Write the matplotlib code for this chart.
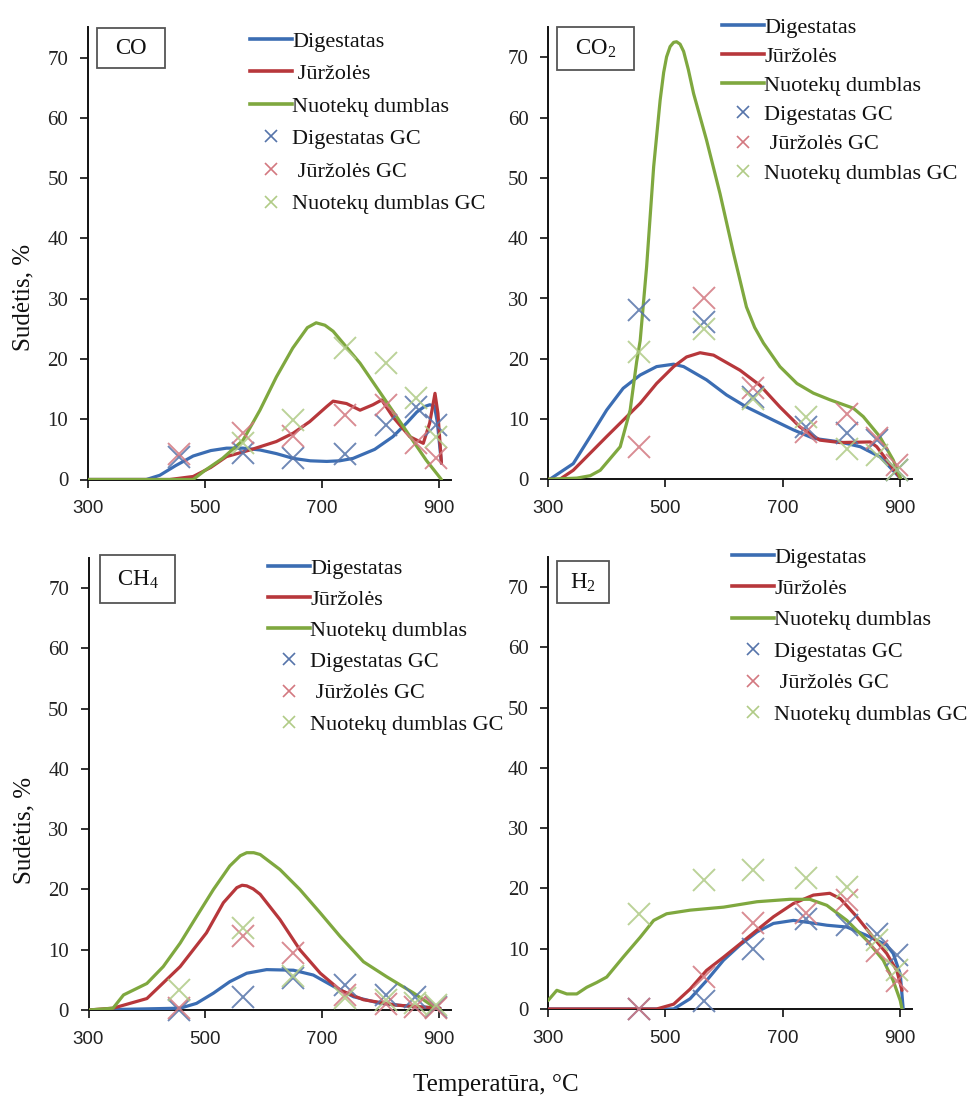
import numpy as np
import matplotlib
matplotlib.use("Agg")
import matplotlib.pyplot as plt
from matplotlib.lines import Line2D
from matplotlib.patches import Rectangle

plt.rcParams["font.family"] = ["Liberation Serif", "DejaVu Serif"]
plt.rcParams["mathtext.fontset"] = "custom"
plt.rcParams["mathtext.rm"] = "Liberation Serif"

# ---- data (temperature in C, composition in %) ----
series_names = ["Digestatas", "Jūržolės", "Nuotekų dumblas"]
gc_T = [455, 565, 650, 740, 810, 860, 895]

# CO
co_dig_T = [300, 400, 423, 450, 480, 510, 537, 565, 594, 622, 651, 680, 708, 730, 753, 790, 821, 845, 862, 875, 884, 892, 897, 904]
co_dig = [0, 0, 0.7, 2.3, 3.9, 4.8, 5.2, 5.2, 4.9, 4.3, 3.5, 3.1, 3.0, 3.1, 3.5, 5.0, 7.1, 9.4, 11.2, 12.1, 12.4, 12.2, 9.5, 2.7]
co_jur_T = [300, 440, 480, 510, 537, 577, 622, 651, 679, 708, 719, 742, 765, 787, 802, 821, 850, 873, 884, 893, 898, 904]
co_jur = [0, 0, 0.5, 2.0, 3.8, 4.9, 6.3, 7.7, 9.6, 12.1, 13.0, 12.6, 11.5, 12.4, 13.2, 10.4, 7.1, 6.0, 9.4, 14.3, 11.0, 2.7]
co_nd_T = [300, 480, 500, 530, 565, 594, 622, 650, 675, 690, 705, 719, 765, 822, 878, 904]
co_nd = [0, 0, 1.5, 3.5, 6.5, 11.5, 17.0, 21.8, 25.2, 26.0, 25.6, 24.6, 19.3, 11.2, 3.2, 0]
co_dig_gc = [3.8, 4.4, 3.6, 4.3, 9.0, 12.1, 9.0]
co_jur_gc = [4.3, 7.7, 7.2, 10.7, 12.4, 6.0, 3.6]
co_nd_gc = [np.nan, 6.0, 9.9, 21.8, 19.3, 13.5, 7.1]

# CO2
co2_dig_T = [303, 343, 372, 400, 428, 457, 485, 514, 531, 570, 604, 638, 684, 718, 752, 797, 832, 866, 900]
co2_dig = [0, 2.6, 7.1, 11.5, 15.1, 17.3, 18.7, 19.1, 18.7, 16.5, 14.0, 12.0, 9.8, 8.2, 6.8, 6.2, 5.4, 3.7, 0.2]
co2_jur_T = [300, 320, 343, 400, 457, 485, 514, 536, 559, 582, 627, 661, 695, 729, 763, 797, 849, 860, 900]
co2_jur = [0, 0, 1.5, 7.1, 12.6, 15.9, 18.7, 20.3, 21.0, 20.6, 18.1, 15.6, 12.0, 8.7, 6.5, 6.1, 6.2, 5.4, 0.2]
co2_nd_T = [300, 349, 372, 389, 423, 440, 451, 457, 468, 480, 491, 497, 502, 508, 514, 519, 525, 531, 539, 548, 570, 593, 616, 638, 652, 667, 695, 724, 752, 780, 820, 837, 865, 888, 901]
co2_nd = [0, 0.2, 0.6, 1.5, 5.4, 11.5, 19.5, 23.0, 35.3, 51.9, 62.9, 67.5, 70.1, 71.8, 72.5, 72.6, 72.2, 71.0, 68.0, 64.0, 56.3, 47.4, 37.5, 28.6, 25.2, 22.6, 18.7, 15.9, 14.3, 13.2, 11.8, 10.4, 7.1, 3.2, 0]
co2_dig_gc = [28.1, 26.1, 13.7, 8.7, 7.6, 6.5, 1.5]
co2_jur_gc = [5.4, 30.0, 15.1, 7.9, 10.9, 6.8, 2.4]
co2_nd_gc = [21.2, 25.0, 13.4, 10.4, 5.1, 4.0, 1.5]

# CH4
ch4_dig_T = [300, 457, 485, 514, 542, 571, 605, 651, 685, 720, 754, 800, 857, 902]
ch4_dig = [0, 0.3, 1.1, 2.8, 4.7, 6.1, 6.7, 6.6, 5.8, 3.9, 2.2, 1.1, 0.55, 0.3]
ch4_jur_T = [300, 342, 400, 457, 502, 531, 554, 563, 571, 582, 594, 628, 662, 697, 731, 771, 828, 902]
ch4_jur = [0, 0.3, 1.9, 7.2, 12.8, 17.8, 20.3, 20.7, 20.6, 20.1, 19.2, 15.0, 10.0, 6.1, 3.3, 1.7, 0.8, 0.3]
ch4_nd_T = [300, 342, 360, 400, 428, 457, 485, 514, 542, 560, 571, 583, 594, 628, 662, 697, 731, 771, 811, 857, 891, 902]
ch4_nd = [0, 0.3, 2.5, 4.4, 7.2, 11.1, 15.5, 20.0, 23.9, 25.6, 26.1, 26.1, 25.8, 23.3, 20.0, 16.1, 12.2, 8.0, 5.5, 2.8, 0.55, 0]
ch4_dig_gc = [0.0, 2.2, 5.3, 4.2, 2.5, 2.2, 0.5]
ch4_jur_gc = [0.3, 12.2, 9.4, 2.5, 1.0, 0.55, 0.3]
ch4_nd_gc = [3.3, 13.6, 5.6, 2.0, 1.7, 1.1, 0.8]

# H2
h2_dig_T = [300, 514, 542, 570, 599, 627, 656, 684, 718, 741, 775, 809, 843, 877, 888, 900, 905]
h2_dig = [0, 0, 1.7, 4.7, 8.1, 10.6, 12.8, 14.2, 14.7, 14.4, 13.9, 13.6, 12.2, 10.6, 9.2, 5.8, 0]
h2_jur_T = [300, 485, 514, 542, 570, 599, 627, 656, 684, 718, 752, 780, 798, 826, 854, 877, 894, 903]
h2_jur = [0, 0, 0.8, 3.3, 6.4, 8.6, 10.8, 13.1, 15.3, 17.5, 18.9, 19.2, 18.3, 15.3, 11.9, 9.2, 6.4, 3.1]
h2_nd_T = [300, 315, 332, 349, 366, 383, 400, 428, 457, 480, 502, 542, 599, 656, 712, 746, 775, 809, 843, 871, 888, 900, 903]
h2_nd = [1.4, 3.1, 2.5, 2.5, 3.6, 4.4, 5.3, 8.6, 11.9, 14.7, 15.8, 16.4, 16.9, 17.8, 18.2, 18.2, 17.2, 14.7, 11.4, 8.1, 4.7, 1.4, 0]
h2_dig_gc = [0.0, 1.4, 10.0, 15.0, 13.9, 12.5, 8.9]
h2_jur_gc = [0.0, 5.3, 14.2, 16.0, 18.1, 9.7, 4.7]
h2_nd_gc = [15.8, 21.4, 23.1, 21.7, 20.3, 11.4, 6.4]

x_ticks = [300, 500, 700, 900]
y_ticks = [0, 10, 20, 30, 40, 50, 60, 70]

line_colors = ["#3B6DB3", "#B7373B", "#7FA83F"]
gc_colors = ["#5674AA", "#D37880", "#B0CB86"]

W, H = 973, 1104
fig = plt.figure(figsize=(W / 100, H / 100), dpi=100)

panels = [
    dict(label="CO", rect=(87.8, 479.5, 363),
         lines=[(co_dig_T, co_dig), (co_jur_T, co_jur), (co_nd_T, co_nd)],
         gc=[co_dig_gc, co_jur_gc, co_nd_gc],
         box=(0.0253, 0.910, 0.187, 0.0885),
         leg=(250, 31, 0.54), jur_space=True),
    dict(label=r"CO$_\mathregular{2}$", rect=(548, 479.3, 364),
         lines=[(co2_dig_T, co2_dig), (co2_jur_T, co2_jur), (co2_nd_T, co2_nd)],
         gc=[co2_dig_gc, co2_jur_gc, co2_nd_gc],
         box=(0.0247, 0.9055, 0.2115, 0.095),
         leg=(722, 17, 0.39), jur_space=False),
    dict(label=r"CH$_\mathregular{4}$", rect=(88.5, 1010, 362),
         lines=[(ch4_dig_T, ch4_dig), (ch4_jur_T, ch4_jur), (ch4_nd_T, ch4_nd)],
         gc=[ch4_dig_gc, ch4_jur_gc, ch4_nd_gc],
         box=(0.0318, 0.9004, 0.207, 0.106),
         leg=(268, 558, 0.48), jur_space=False),
    dict(label=r"H$_\mathregular{2}$", rect=(548, 1009, 364),
         lines=[(h2_dig_T, h2_dig), (h2_jur_T, h2_jur), (h2_nd_T, h2_nd)],
         gc=[h2_dig_gc, h2_jur_gc, h2_nd_gc],
         box=(0.0247, 0.898, 0.143, 0.093),
         leg=(732, 547, 0.49), jur_space=False),
]

for p in panels:
    left, base, width = p["rect"]
    ax = fig.add_axes([left / W, (H - base) / H, width / W, 452 / H])

    for (t, v), c in zip(p["lines"], line_colors):
        ax.plot(t, v, color=c, lw=2.3, solid_capstyle="round", solid_joinstyle="round", zorder=3)
    for vals, c in zip(p["gc"], gc_colors):
        ax.plot(gc_T, vals, ls="none", marker="x", ms=16, mew=1.4,
                color=c, alpha=0.85, zorder=4, clip_on=False)

    ax.set_xlim(300, 920)
    ax.set_ylim(0, 75)
    ax.set_xticks(x_ticks)
    ax.set_xticklabels([str(t) for t in x_ticks], fontfamily="Liberation Sans", fontsize=13.5)
    ax.set_yticks(y_ticks)
    ax.set_yticklabels([str(t) for t in y_ticks], fontsize=15)
    ax.tick_params(axis="x", direction="out", length=6, width=1.3, pad=9, colors="#222222")
    ax.tick_params(axis="y", direction="out", length=6, width=1.3, pad=8, colors="#222222")
    for s in ["top", "right"]:
        ax.spines[s].set_visible(False)
    for s in ["left", "bottom"]:
        ax.spines[s].set_linewidth(1.4)
        ax.spines[s].set_color("#111111")

    bx, by, bw, bh = p["box"]
    ax.add_patch(Rectangle((bx, by), bw, bh, transform=ax.transAxes, fill=True,
                           facecolor="white", edgecolor="#555555", lw=1.3,
                           clip_on=False, zorder=5))
    ax.text(bx + bw / 2, by + bh / 2, p["label"], transform=ax.transAxes,
            ha="center", va="center", fontsize=16.5, color="#111111", zorder=6)

    jur = " Jūržolės" if p["jur_space"] else "Jūržolės"
    handles = [Line2D([], [], color=c, lw=2.6) for c in line_colors]
    handles += [Line2D([], [], ls="none", marker="x", ms=9, mew=1.2, color=c) for c in gc_colors]
    labels = ["Digestatas", jur, "Nuotekų dumblas",
              "Digestatas GC", " Jūržolės GC", "Nuotekų dumblas GC"]
    lx, ly, sp = p["leg"]
    fig.legend(handles, labels, loc="upper left", bbox_to_anchor=(lx / W, 1 - ly / H),
               bbox_transform=fig.transFigure, frameon=False, fontsize=16,
               handlelength=1.9, handletextpad=0.0, borderpad=0, borderaxespad=0,
               labelspacing=sp, labelcolor="#111111")

fig.text(23 / W, 1 - 297 / H, "Sudėtis, %", rotation=90, ha="center", va="center",
         fontsize=18, color="#111111")
fig.text(24 / W, 1 - 830 / H, "Sudėtis, %", rotation=90, ha="center", va="center",
         fontsize=18, color="#111111")
fig.text(496 / W, 1 - 1085 / H, "Temperatūra, °C", ha="center", va="center",
         fontsize=18, color="#111111")

fig.savefig("out.png", dpi=100)
